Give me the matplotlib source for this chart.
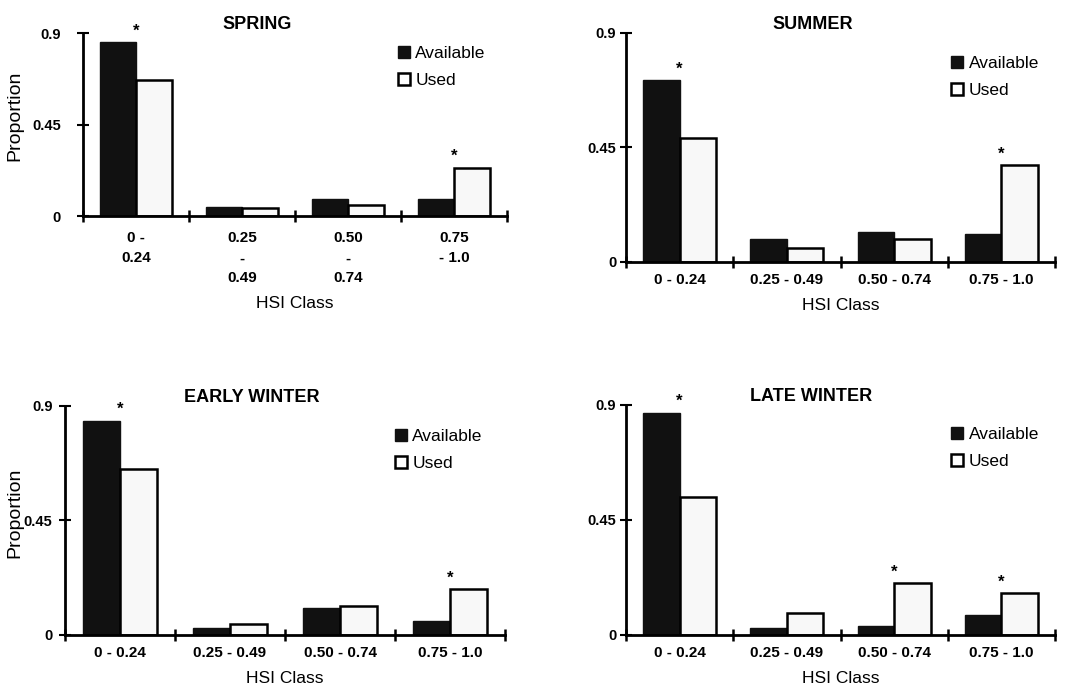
# Habitat suitability (HSI) class use vs availability, four seasons
import matplotlib
matplotlib.use("Agg")
import matplotlib.pyplot as plt
import numpy as np
from matplotlib.patches import Patch

plt.rcParams['font.family'] = ['Liberation Sans', 'DejaVu Sans']

hsi_classes = ["0 - 0.24", "0.25 - 0.49", "0.50 - 0.74", "0.75 - 1.0"]
hsi_classes_spring = ["0 -\n0.24", "0.25\n-\n0.49", "0.50\n-\n0.74", "0.75\n- 1.0"]

seasons = ["SPRING", "SUMMER", "EARLY WINTER", "LATE WINTER"]

spring_avail = [0.856, 0.044, 0.082, 0.082]
spring_used = [0.669, 0.038, 0.054, 0.238]
summer_avail = [0.714, 0.088, 0.118, 0.109]
summer_used = [0.485, 0.055, 0.088, 0.380]
early_avail = [0.842, 0.026, 0.107, 0.056]
early_used = [0.651, 0.043, 0.115, 0.180]
late_avail = [0.870, 0.026, 0.035, 0.078]
late_used = [0.541, 0.087, 0.202, 0.163]

# classes marked with an asterisk (significant difference)
spring_sig = [0, 3]
summer_sig = [0, 3]
early_sig = [0, 3]
late_sig = [0, 2, 3]

y_ticks = [0, 0.45, 0.9]
y_tick_labels = ["0", "0.45", "0.9"]


def draw_panel(ax, title, avail, used, sig, labels, ylabel_pos, leg_anchor, title_x, ypad, xpad):
    x = np.arange(len(avail)) + 0.5
    w = 0.34
    ax.bar(x - w / 2, avail, w, color='#111111', edgecolor='#111111', linewidth=1.0)
    ax.bar(x + w / 2, used, w, color='#f8f8f8', edgecolor='black', linewidth=1.8)

    for i in sig:
        top = max(avail[i], used[i])
        ax.annotate('*', xy=(x[i], top), xytext=(0, 8), textcoords='offset points',
                    ha='center', va='center', fontsize=12, fontweight='bold')

    ax.set_xlim(0, 4)
    ax.set_ylim(0, 0.9)
    for s in ['top', 'right']:
        ax.spines[s].set_visible(False)
    for s in ['left', 'bottom']:
        ax.spines[s].set_linewidth(2)

    ax.set_xticks([0, 1, 2, 3, 4])
    ax.set_xticklabels([])
    ax.set_xticks(x, minor=True)
    ax.set_xticklabels(labels, minor=True, fontsize=11, fontweight='bold', linespacing=1.55)
    ax.tick_params(axis='x', which='major', direction='inout', length=9, width=1.8)
    ax.tick_params(axis='x', which='minor', length=0, pad=xpad)

    ax.set_yticks(y_ticks)
    ax.set_yticklabels(y_tick_labels, fontsize=10.5, fontweight='bold')
    ax.tick_params(axis='y', direction='inout', length=8, width=1.5, pad=ypad)

    ax.set_xlabel("HSI Class", fontsize=12.5, labelpad=8)
    if ylabel_pos is not None:
        ax.set_ylabel("Proportion", fontsize=14)
        ax.yaxis.set_label_coords(*ylabel_pos)

    ax.text(title_x, 1.0, title, transform=ax.transAxes, ha='center', va='bottom',
            fontsize=13, fontweight='bold')

    handles = [Patch(facecolor='#111111', edgecolor='#111111'),
               Patch(facecolor='white', edgecolor='black', linewidth=1.8)]
    ax.legend(handles, ["Available", "Used"], loc='upper left', bbox_to_anchor=leg_anchor,
              frameon=False, fontsize=12.5, handlelength=0.7, handleheight=0.7,
              handletextpad=0.3, labelspacing=0.7, borderpad=0, borderaxespad=0)


fig = plt.figure(figsize=(10.91, 6.89), dpi=100)

ax1 = fig.add_axes([0.0761, 0.6865, 0.3886, 0.2656])
ax2 = fig.add_axes([0.5738, 0.6202, 0.3932, 0.3324])
ax3 = fig.add_axes([0.0596, 0.0784, 0.4033, 0.3324])
ax4 = fig.add_axes([0.5738, 0.0784, 0.3932, 0.3338])

draw_panel(ax1, seasons[0], spring_avail, spring_used, spring_sig, hsi_classes_spring,
           (-0.14, 0.546), (0.743, 0.93), 0.41, 12, 11)
draw_panel(ax2, seasons[1], summer_avail, summer_used, summer_sig, hsi_classes,
           None, (0.758, 0.9), 0.436, 3, 8)
draw_panel(ax3, seasons[2], early_avail, early_used, early_sig, hsi_classes,
           (-0.095, 0.535), (0.75, 0.9), 0.425, 5, 8)
draw_panel(ax4, seasons[3], late_avail, late_used, late_sig, hsi_classes,
           None, (0.758, 0.905), 0.431, 3, 8)

fig.savefig("out.png", dpi=100)
